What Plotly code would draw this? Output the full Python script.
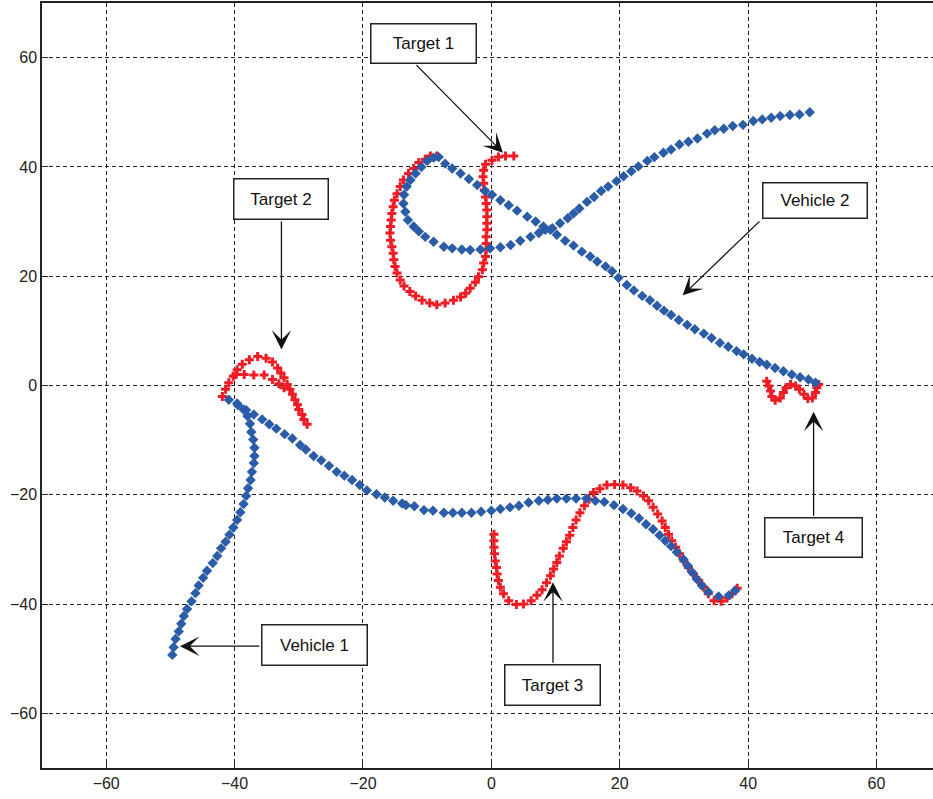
import plotly.graph_objects as go

# ---------------- data ----------------
vehicle1_x = [-49.7, -49.5, -49.2, -48.7, -48.3, -47.9, -47.4, -46.7, -46.1, -45.6, -44.9, -44.3,
              -43.4, -42.7, -42.1, -41.4, -40.8, -40.2, -39.6, -39.1, -38.6, -38.2, -37.9, -37.5,
              -37.3, -37.0, -36.9, -36.9, -37.1, -37.4, -37.6, -38.0, -38.6, -39.6, -40.9,
              -39.5, -38.2, -37.0, -35.7, -34.6, -33.5, -32.2, -31.0, -29.8, -28.9, -27.7, -26.5,
              -25.3, -24.1, -22.9, -21.7, -20.5, -19.4, -17.9, -16.6, -15.3, -13.9, -13.3, -12.0,
              -10.5, -9.1, -7.4, -6.0, -4.6, -3.1, -1.6, 0.0, 1.4, 2.9, 4.3, 5.8, 7.4, 8.8, 10.2,
              11.7, 13.2, 14.8, 16.2, 17.6, 19.1, 20.5, 21.8, 23.0, 24.1, 25.2, 26.2, 27.1, 28.0,
              28.9, 29.9, 30.6, 31.3, 32.0, 32.8, 33.8, 35.4, 37.0, 38.0]
vehicle1_y = [-49.3, -47.9, -46.4, -45.0, -43.6, -42.2, -40.9, -39.5, -38.0, -36.6, -35.2, -33.9,
              -32.5, -31.2, -29.8, -28.6, -27.3, -26.0, -24.6, -23.2, -21.7, -20.2, -18.8, -17.3,
              -15.8, -14.2, -12.9, -11.4, -9.9, -8.5, -7.0, -5.6, -4.4, -3.3, -2.6,
              -3.6, -4.5, -5.3, -6.2, -7.1, -7.9, -8.9, -9.7, -10.9, -11.7, -12.9, -13.7,
              -14.7, -15.8, -16.5, -17.3, -18.2, -19.2, -19.9, -20.5, -21.1, -21.6, -21.9, -22.1,
              -22.8, -22.9, -23.3, -23.3, -23.3, -23.3, -23.1, -22.9, -22.6, -22.3, -22.0, -21.4,
              -21.1, -20.9, -20.7, -20.7, -20.7, -20.7, -21.1, -21.3, -21.9, -22.6, -23.4, -24.3,
              -25.4, -26.3, -27.4, -28.4, -29.4, -30.5, -31.8, -33.0, -34.2, -35.4, -36.6, -37.8,
              -38.6, -38.4, -37.5]

vehicle2_x = [50.5, 49.4, 48.1, 46.8, 45.5, 44.2, 42.9, 41.8, 40.6, 39.3, 38.2, 36.9, 35.6, 34.3,
              33.1, 31.7, 30.5, 29.2, 28.0, 26.9, 25.8, 24.7, 23.5, 22.2, 21.1, 19.8, 18.8, 17.8,
              16.5, 15.4, 14.1, 12.8, 11.5, 10.2, 9.2, 8.1, 6.9, 5.6, 4.0, 2.7, 1.4, 0.1, -1.0,
              -2.2, -3.5, -4.8, -6.1, -7.2, -8.2,
              -9.0, -10.0, -10.9, -11.8, -12.6, -13.2, -13.6, -13.7, -13.4, -13.0, -12.1, -11.3,
              -10.3, -9.0, -7.4, -6.1, -4.6, -3.3, -1.7, -0.2, 1.4, 3.0, 4.5, 6.1, 7.4, 8.4,
              9.5, 10.7, 11.9, 12.8, 13.7, 14.9, 16.0, 17.1, 18.2, 19.5, 20.6, 21.8, 22.9, 24.3,
              25.4, 26.8, 28.0, 29.3, 30.7, 32.1, 33.6, 34.8, 36.2, 37.6, 39.2, 40.8, 42.2, 43.6,
              45.0, 46.5, 48.0, 49.6]
vehicle2_y = [0.5, 1.1, 1.5, 2.0, 2.6, 3.2, 3.8, 4.3, 4.9, 5.7, 6.3, 7.1, 7.8, 8.7,
              9.5, 10.3, 11.1, 12.0, 12.9, 13.7, 14.6, 15.6, 16.4, 17.4, 18.4, 19.7, 20.9, 21.8,
              22.7, 23.6, 24.5, 25.6, 26.5, 27.6, 28.5, 29.1, 30.0, 30.9, 32.0, 33.0, 33.9, 34.9,
              35.6, 36.7, 37.8, 38.8, 39.7, 40.6, 41.8,
              41.7, 41.1, 40.0, 38.8, 37.6, 36.4, 34.9, 33.3, 31.8, 30.3, 29.1, 28.2,
              27.2, 26.3, 25.4, 25.1, 24.9, 24.8, 24.9, 25.1, 25.3, 25.7, 26.5, 27.2, 27.9, 28.5,
              28.8, 29.7, 30.6, 31.5, 32.4, 33.6, 34.5, 35.6, 36.4, 37.4, 38.3, 39.2, 40.1, 41.1,
              41.8, 42.6, 43.2, 44.1, 44.6, 45.2, 46.1, 46.7, 47.0, 47.5, 47.7, 48.4, 48.7, 49.0,
              49.3, 49.5, 49.6, 50.0]

target1_x = [3.5, 2.2, 1.1, 0.1, -0.9, -1.2, -1.3, -1.2, -1.1, -0.9, -0.8, -0.7, -0.7, -0.7, -0.7,
             -0.8, -0.8, -0.8, -0.9, -1.2, -1.4, -2.0, -2.5, -3.3, -4.0, -4.8, -5.9, -7.2, -8.5,
             -9.6, -10.8, -11.8, -12.7, -13.6, -14.2, -14.7, -15.0, -15.2, -15.3, -15.5, -15.7,
             -15.8, -15.7, -15.6, -15.5, -15.3, -15.1, -14.7, -14.2, -13.7, -12.9, -12.1, -11.3,
             -10.3, -9.5, -8.5]
target1_y = [42.0, 42.0, 41.8, 41.2, 40.5, 39.4, 38.2, 37.0, 35.8, 34.5, 33.3, 32.1, 30.9, 29.7,
             28.5, 27.2, 26.0, 24.8, 23.6, 22.4, 21.2, 19.9, 18.9, 17.8, 16.9, 16.2, 15.6, 15.1,
             14.8, 15.1, 15.6, 16.4, 17.2, 18.2, 19.3, 20.6, 21.8, 23.0, 24.2, 25.4, 26.6, 27.9,
             29.1, 30.3, 31.5, 32.7, 33.9, 35.1, 36.4, 37.6, 38.8, 39.7, 40.8, 41.4, 42.0, 42.0]

target2_x = [-28.7, -29.2, -29.5, -30.0, -30.2, -30.6, -31.0, -31.4, -31.8, -32.3, -32.8, -33.3,
             -34.1, -35.1, -36.4, -37.7, -38.8, -39.6, -40.2, -40.9, -41.4, -41.9,
             -39.8, -38.5, -37.0, -35.4, -34.1, -33.1, -32.3]
target2_y = [-7.1, -6.2, -5.3, -4.4, -3.5, -2.6, -1.6, -0.7, 0.2, 1.4, 2.3, 3.2,
             4.3, 5.0, 5.3, 4.7, 3.9, 2.9, 1.7, 0.5, -0.7, -2.0,
             2.0, 2.0, 1.9, 1.9, 1.1, 0.3, -0.4]

target3_x = [0.4, 0.4, 0.4, 0.5, 0.6, 0.8, 0.9, 1.1, 1.4, 1.9, 2.7, 3.9, 5.0, 6.2, 7.1, 7.9, 8.6,
             9.2, 9.7, 10.2, 10.6, 11.2, 11.7, 12.2, 12.7, 13.2, 13.8, 14.5, 15.2, 15.9, 16.9,
             18.0, 19.2, 20.5, 21.7, 22.7, 23.7, 24.5, 25.2, 25.9, 26.6, 27.1, 27.6, 28.1, 28.7,
             29.3, 30.0, 30.7, 31.5, 32.3, 33.1, 33.8, 34.7, 35.8, 36.7, 37.5, 38.3]
target3_y = [-27.2, -28.4, -29.6, -30.8, -32.1, -33.3, -34.5, -35.7, -36.9, -38.1, -39.4, -40.1,
             -40.0, -39.4, -38.4, -37.4, -36.1, -34.8, -33.6, -32.4, -31.2, -29.8, -28.6, -27.4,
             -26.0, -24.6, -23.3, -22.0, -20.8, -19.6, -18.9, -18.2, -18.1, -18.2, -18.7, -19.3,
             -20.2, -21.1, -22.3, -23.5, -24.8, -26.0, -27.2, -28.4, -29.6, -30.8, -32.1, -33.3,
             -34.5, -35.7, -36.9, -38.1, -39.4, -39.5, -38.9, -38.1, -37.1]

target4_x = [42.9, 43.2, 43.5, 43.7, 44.2, 45.0, 45.5, 45.9, 46.6, 47.4, 48.0, 48.7, 49.3, 50.0,
             50.5, 50.7, 51.0]
target4_y = [0.8, -0.1, -1.0, -2.0, -2.7, -2.3, -1.3, -0.4, 0.2, -0.1, -0.7, -1.6, -2.4, -2.3,
             -1.3, -0.4, 0.2]

x_ticks = [-60, -40, -20, 0, 20, 40, 60]
y_ticks = [-60, -40, -20, 0, 20, 40, 60]

# label text, box centre, arrow tail, arrow tip (data units)
labels = ["Target 1", "Target 2", "Vehicle 2", "Vehicle 1", "Target 3", "Target 4"]
box_x = [-10.6, -32.8, 50.4, -27.6, 9.5, 50.2]
box_y = [62.6, 34.2, 33.9, -47.5, -54.8, -27.9]
box_w = [104, 93, 103, 104, 94, 96]
box_h = [38, 39, 34, 39, 39, 38]
tail_x = [-11.9, -32.7, 42.0, -35.9, 9.6, 50.2]
tail_y = [58.9, 30.3, 30.3, -47.7, -51.0, -24.1]
tip_x = [1.8, -32.7, 29.8, -48.5, 9.6, 50.2]
tip_y = [42.6, 6.6, 16.5, -47.7, -36.0, -4.8]

RED = "#ee1c25"
BLUE = "#2b5ca8"

fig = go.Figure()
for tx, ty in [(target1_x, target1_y), (target2_x, target2_y),
               (target3_x, target3_y), (target4_x, target4_y)]:
    fig.add_trace(go.Scatter(x=tx, y=ty, mode="markers",
                             marker=dict(symbol="cross", size=7.5, color=RED,
                                         line=dict(width=0)),
                             showlegend=False, hoverinfo="skip"))
for vx, vy in [(vehicle1_x, vehicle1_y), (vehicle2_x, vehicle2_y)]:
    fig.add_trace(go.Scatter(x=vx, y=vy, mode="markers",
                             marker=dict(symbol="diamond", size=8, color=BLUE,
                                         line=dict(width=0)),
                             showlegend=False, hoverinfo="skip"))

annotations = []
for i, lab in enumerate(labels):
    # arrow
    annotations.append(dict(x=tip_x[i], y=tip_y[i], ax=tail_x[i], ay=tail_y[i],
                            xref="x", yref="y", axref="x", ayref="y",
                            text="", showarrow=True, arrowhead=3, arrowsize=2.5,
                            arrowwidth=1.3, arrowcolor="#111111", standoff=0, startstandoff=0))
    # box
    annotations.append(dict(x=box_x[i], y=box_y[i], xref="x", yref="y",
                            text=lab, showarrow=False,
                            font=dict(family="Liberation Sans, Arial", size=17, color="#111111"),
                            bgcolor="white", bordercolor="#222222", borderwidth=1.5,
                            borderpad=0, width=box_w[i], height=box_h[i],
                            xanchor="center", yanchor="middle"))

axis_common = dict(showgrid=True, gridcolor="#222222", gridwidth=1, griddash="4px,3px",
                   zeroline=False, showline=True, linecolor="#222222", linewidth=1.5,
                   ticks="inside", ticklen=6, tickcolor="#222222", automargin=False,
                   tickfont=dict(family="Liberation Sans, Arial", size=16, color="#222222"))

fig.update_layout(
    width=933, height=799,
    margin=dict(l=42, r=0, t=3, b=31),
    paper_bgcolor="white", plot_bgcolor="white",
    xaxis=dict(range=[-70, 68.8], tickvals=x_ticks, mirror=True, **axis_common),
    yaxis=dict(range=[-70, 70], tickvals=y_ticks, mirror=False, **axis_common),
    annotations=annotations,
    showlegend=False,
)

fig.write_html("out.html",
               config={"displayModeBar": False},
               post_script="document.body.style.margin='0px';"
                           "document.body.style.overflow='hidden';")
